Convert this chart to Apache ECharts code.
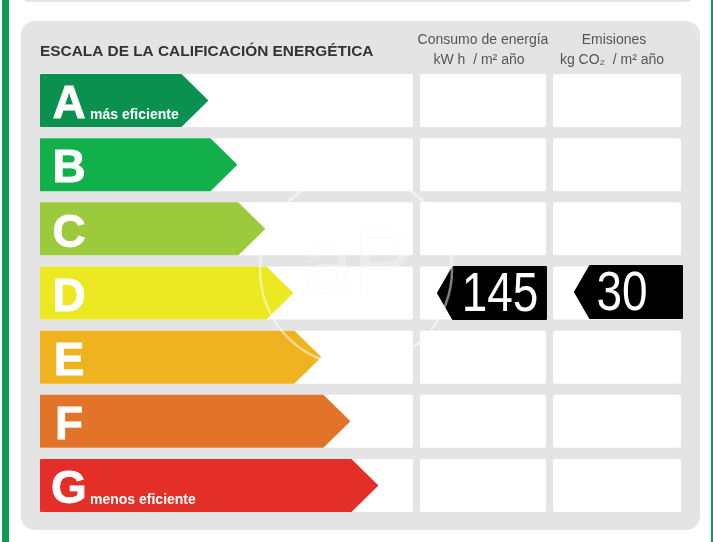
<!DOCTYPE html>
<html>
<head>
<meta charset="utf-8">
<style>
  html, body { margin: 0; padding: 0; background: #fff; }
  #main { width: 713px; height: 542px; }
</style>
<script src="https://cdn.jsdelivr.net/npm/echarts@6/dist/echarts.min.js"></script>
</head>
<body>
<div id="main"></div>
<script>
const ratings = ["A", "B", "C", "D", "E", "F", "G"];
const arrowLengths = [168, 197, 225, 253, 281, 310, 338];
const arrowColors = ["#0a9150", "#12b04a", "#9bcb3c", "#ece822", "#eeb31e", "#e2742a", "#e32f27"];
const arrowNotes = ["más eficiente", "", "", "", "", "", "menos eficiente"];
const energyRating = "D";
const energyValue = 145;
const emissionRating = "D";
const emissionValue = 30;

const FONT = '"Liberation Sans", Arial, sans-serif';
const LEFT = 40;

// white rows behind the arrows and the two value columns
function renderRow(params, api) {
  const cy = api.coord([0, api.value(0)])[1];
  const h = 53;
  const cols = [[40, 413], [420, 546], [553, 681]];
  return {
    type: "group",
    children: cols.map(c => ({
      type: "rect",
      shape: { x: c[0], y: cy - h / 2, width: c[1] - c[0], height: h, r: 2 },
      style: { fill: "#fff" }
    }))
  };
}

function renderArrow(params, api) {
  const i = api.value(0);
  const x0 = api.coord([0, i])[0];
  const tip = api.coord([api.value(1), i])[0];
  const cy = api.coord([0, i])[1];
  const h = 53;
  const color = arrowColors[i];
  const top = cy - h / 2 + 1;
  const bottom = cy + h / 2 - 1;
  const children = [{
    type: "polygon",
    shape: {
      points: [[x0 + 1, top], [tip - 27, top], [tip - 1, cy], [tip - 27, bottom], [x0 + 1, bottom]]
    },
    style: { fill: color, stroke: color, lineWidth: 2, lineJoin: "round" }
  }, {
    type: "text",
    style: {
      x: x0 + 29, y: cy + 5, text: ratings[i], fill: "#fff", stroke: "#fff", lineWidth: 0.8,
      font: "bold 46px " + FONT, align: "center", verticalAlign: "middle"
    }
  }];
  if (arrowNotes[i]) {
    children.push({
      type: "text",
      style: {
        x: x0 + 50, y: cy + 14.5, text: arrowNotes[i], fill: "#fff",
        font: "bold 14px " + FONT, align: "left", verticalAlign: "middle"
      }
    });
  }
  return { type: "group", children: children };
}

// black value tag, pointing left
function tagRenderer(left, right, dy, textX) {
  return function (params, api) {
    const cy = api.coord([0, api.value(0)])[1] + dy;
    const h = 54;
    const t = cy - h / 2 + 1;
    const b = cy + h / 2 - 1;
    return {
      type: "group",
      children: [{
        type: "polygon",
        shape: { points: [[left + 1, cy], [left + 16, t], [right - 1, t], [right - 1, b], [left + 16, b]] },
        style: { fill: "#000", stroke: "#000", lineWidth: 2, lineJoin: "round" }
      }, {
        type: "text",
        x: textX, y: cy + 3, scaleX: 0.82,
        style: {
          x: 0, y: 0, text: String(api.value(1)), fill: "#fff",
          font: "56px " + FONT, align: "center", verticalAlign: "middle"
        }
      }]
    };
  };
}

const headerStyle = { fill: "#555", font: "14px " + FONT, textAlign: "center", textVerticalAlign: "middle" };

const option = {
  animation: false,
  backgroundColor: "#fff",
  grid: { left: LEFT, top: 68.5, width: 673, height: 449 },
  xAxis: { type: "value", min: 0, max: 673, show: false },
  yAxis: { type: "category", data: ratings, inverse: true, show: false },
  graphic: [
    { type: "rect", z: 0, shape: { x: 2, y: -2, width: 7, height: 546 }, style: { fill: "#0d9a55" } },
    { type: "rect", z: 0, shape: { x: 711, y: -2, width: 4, height: 546 }, style: { fill: "#0d9a55" } },
    { type: "rect", z: 0, shape: { x: 21, y: -20, width: 673, height: 22, r: 8 }, style: { fill: "#e4e4e4" } },
    { type: "rect", z: 0, shape: { x: 21, y: 21, width: 679, height: 509, r: 14 }, style: { fill: "#e4e4e4" } },
    {
      type: "text", z: 3, x: 40, y: 52,
      style: { text: "ESCALA DE LA CALIFICACIÓN ENERGÉTICA", fill: "#333", font: "bold 15.4px " + FONT, textVerticalAlign: "middle" }
    },
    { type: "text", z: 3, x: 483, y: 40, style: Object.assign({ text: "Consumo de energía" }, headerStyle) },
    { type: "text", z: 3, x: 479, y: 60, style: Object.assign({ text: "kW h  / m² año" }, headerStyle) },
    { type: "text", z: 3, x: 614, y: 40, style: Object.assign({ text: "Emisiones" }, headerStyle) },
    { type: "text", z: 3, x: 612, y: 60, style: Object.assign({ text: "kg CO₂  / m² año" }, headerStyle) },
    // watermark
    {
      type: "circle", z: 100, shape: { cx: 356, cy: 270, r: 96 },
      style: { fill: "none", stroke: "rgba(255,255,255,0.5)", lineWidth: 2.5 }
    },
    {
      type: "text", z: 100, x: 358, y: 268,
      style: {
        text: "aP", fill: "rgba(255,255,255,0.25)", stroke: "rgba(240,240,240,0.3)", lineWidth: 1,
        font: "90px " + FONT, textAlign: "center", textVerticalAlign: "middle"
      }
    }
  ],
  series: [
    {
      type: "custom", z: 2, coordinateSystem: "cartesian2d",
      renderItem: renderRow, encode: { x: 1, y: 0 },
      data: ratings.map((r, i) => [i, 0])
    },
    {
      type: "custom", z: 3, coordinateSystem: "cartesian2d",
      renderItem: renderArrow, encode: { x: 1, y: 0 },
      data: arrowLengths.map((v, i) => [i, v])
    },
    {
      type: "custom", z: 4, coordinateSystem: "cartesian2d",
      renderItem: tagRenderer(437, 547, 0, 500), encode: { y: 0 },
      data: [[ratings.indexOf(energyRating), energyValue]]
    },
    {
      type: "custom", z: 4, coordinateSystem: "cartesian2d",
      renderItem: tagRenderer(574, 683, -1, 622), encode: { y: 0 },
      data: [[ratings.indexOf(emissionRating), emissionValue]]
    }
  ]
};

const chart = echarts.init(document.getElementById("main"));
chart.setOption(option);
</script>
</body>
</html>
